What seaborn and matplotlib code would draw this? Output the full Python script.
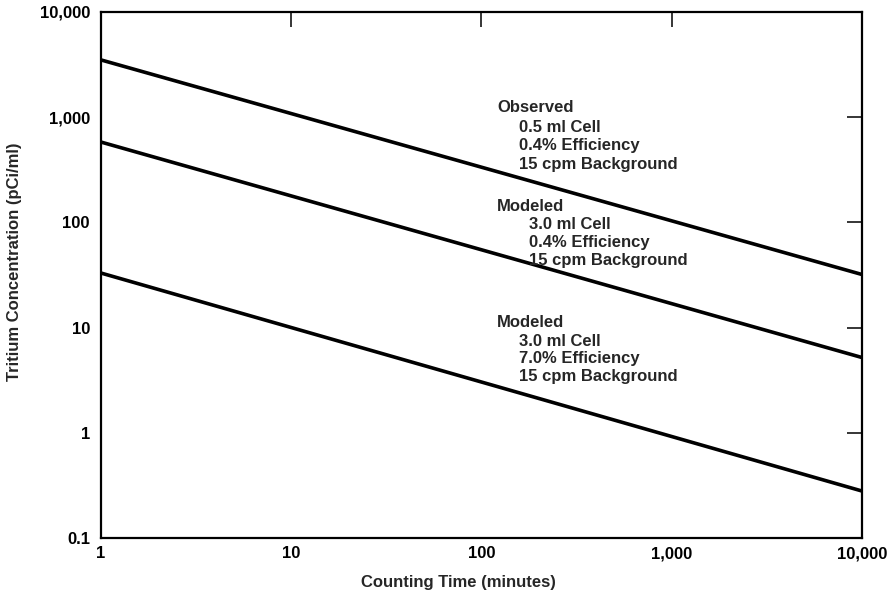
import numpy as np
import pandas as pd
import matplotlib
matplotlib.use("Agg")
import matplotlib.pyplot as plt
import seaborn as sns

# Values (log-log straight lines, endpoints)
counting_time = [1, 10000]
observed_05ml = [3500, 32]
modeled_30ml_04 = [580, 5.2]
modeled_30ml_70 = [33, 0.28]

x_ticks = [1, 10, 100, 1000, 10000]
x_tick_labels = ["1", "10", "100", "1,000", "10,000"]
y_ticks = [0.1, 1, 10, 100, 1000, 10000]
y_tick_labels = ["0.1", "1", "10", "100", "1,000", "10,000"]

annotations = [
    ("Observed", ["0.5 ml Cell", "0.4% Efficiency", "15 cpm Background"]),
    ("Modeled", ["3.0 ml Cell", "0.4% Efficiency", "15 cpm Background"]),
    ("Modeled", ["3.0 ml Cell", "7.0% Efficiency", "15 cpm Background"]),
]

sns.set_theme(style="white")
plt.rcParams['font.family'] = ['Liberation Sans', 'DejaVu Sans']
plt.rcParams['font.weight'] = 'bold'

fig = plt.figure(figsize=(8.94, 5.98), dpi=100)
ax = fig.add_axes([0.113, 0.1003, 0.851, 0.8797])

series = [observed_05ml, modeled_30ml_04, modeled_30ml_70]
for vals in series:
    df = pd.DataFrame({"t": counting_time, "c": vals})
    sns.lineplot(data=df, x="t", y="c", color="black", linewidth=2.6, ax=ax)

ax.set_xscale("log")
ax.set_yscale("log")
ax.set_xlim(1, 10000)
ax.set_ylim(0.1, 10000)
ax.set_xticks(x_ticks)
ax.set_xticklabels(x_tick_labels)
ax.set_yticks(y_ticks)
ax.set_yticklabels(y_tick_labels)
ax.minorticks_off()
ax.tick_params(which="major", direction="in", length=11, width=1.1,
               top=True, right=True, labelsize=12, colors="black")
ax.tick_params(axis="y", pad=8)
ax.tick_params(axis="x", pad=6)
for s in ax.spines.values():
    s.set_color("black")
    s.set_linewidth(1.6)

ax.set_xlabel("Counting Time (minutes)", fontsize=12, fontweight="bold")
ax.set_ylabel("Tritium Concentration (pCi/ml)", fontsize=12, fontweight="bold")
ax.xaxis.set_label_coords(0.47, -0.07)
ax.yaxis.set_label_coords(-0.104, 0.525)

# annotation blocks (pixel positions converted to axes fraction)
def px(x, y):
    return (x - 101) / 761, (538 - y) / 526

blocks = [
    (497, 519, [108, 128, 146, 165]),
    (497, 529, [207, 225, 243, 261]),
    (497, 519, [323, 342, 359, 376]),
]
for (head, body), (hx, bx, ys) in zip(annotations, blocks):
    ax.text(*px(hx, ys[0]), head, transform=ax.transAxes, fontsize=12,
            fontweight="bold", va="center", ha="left")
    for line, yy in zip(body, ys[1:]):
        ax.text(*px(bx, yy), line, transform=ax.transAxes, fontsize=12,
                fontweight="bold", va="center", ha="left")

fig.savefig("out.png", dpi=100, facecolor="white")
